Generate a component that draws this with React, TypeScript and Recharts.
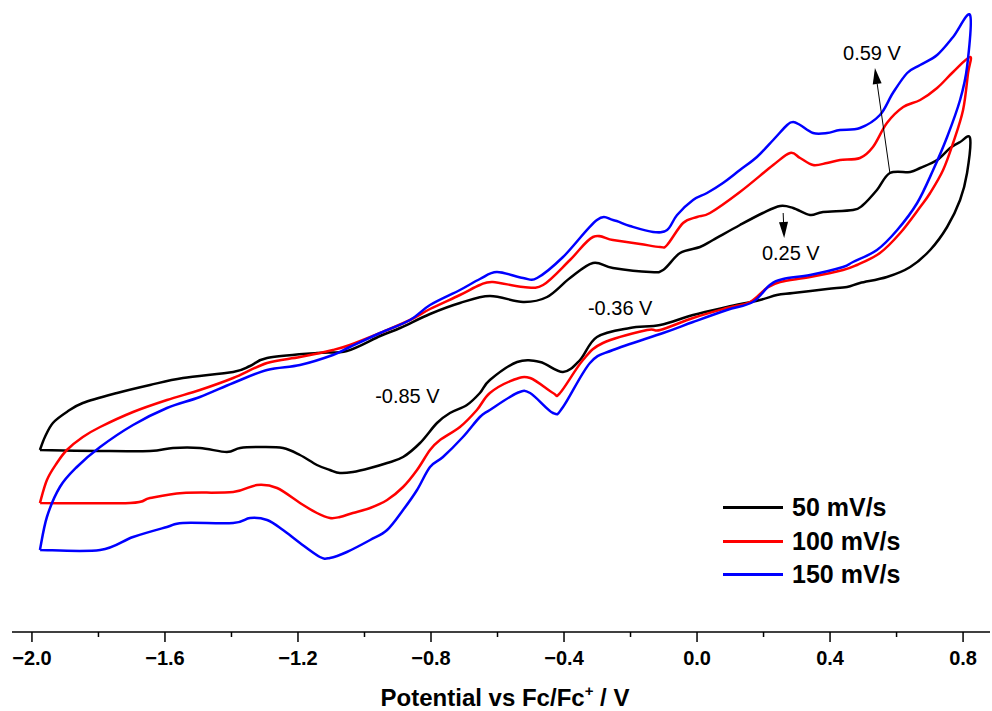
import { LineChart, Line, XAxis, YAxis, Legend, ReferenceLine, ReferenceDot, Label } from 'recharts'

const FONT = '"Liberation Sans", Arial, Helvetica, sans-serif'

// potential (V vs Fc/Fc+) and current (arb. units)
// anodic = left vertex -> right vertex, cathodic = back again
const anodic50 = [
  [-1.976, -3.0], [-1.961, -1.7], [-1.937, -0.3], [-1.895, 0.8], [-1.847, 1.7], [-1.744, 2.7], [-1.645, 3.5],
  [-1.546, 4.2], [-1.395, 4.8], [-1.344, 5.4], [-1.293, 6.2], [-1.143, 6.7], [-1.053, 6.9], [-0.953, 8.4],
  [-0.893, 9.2], [-0.803, 10.6], [-0.713, 11.7], [-0.623, 12.4], [-0.523, 11.8], [-0.451, 12.3], [-0.382, 14.2],
  [-0.313, 15.7], [-0.253, 15.2], [-0.141, 14.8], [-0.102, 15.0], [-0.051, 16.7], [0.009, 17.3], [0.048, 18.0],
  [0.129, 19.5], [0.198, 20.7], [0.25, 21.4], [0.289, 21.2], [0.34, 20.5], [0.379, 20.8], [0.469, 21.0],
  [0.499, 21.5], [0.541, 23.0], [0.58, 24.7], [0.641, 24.8], [0.671, 25.2], [0.722, 26.0], [0.761, 27.2],
  [0.791, 27.8], [0.821, 28.2],
]
const cathodic50 = [
  [0.812, 24.7], [0.791, 22.0], [0.752, 19.3], [0.701, 17.0], [0.641, 15.3], [0.571, 14.3], [0.49, 13.7],
  [0.451, 13.3], [0.391, 13.1], [0.289, 12.7], [0.24, 12.5], [0.189, 12.0], [0.09, 11.3], [-0.012, 10.5],
  [-0.111, 9.5], [-0.202, 9.2], [-0.301, 8.3], [-0.352, 6.0], [-0.403, 4.8], [-0.472, 5.8], [-0.541, 5.8],
  [-0.623, 4.0], [-0.653, 2.7], [-0.692, 1.5], [-0.743, 0.7], [-0.782, -0.3], [-0.833, -2.3], [-0.884, -3.7],
  [-0.932, -4.3], [-0.983, -4.8], [-1.035, -5.2], [-1.074, -5.3], [-1.104, -5.0], [-1.143, -4.5], [-1.194, -3.5],
  [-1.245, -2.8], [-1.314, -2.7], [-1.374, -2.8], [-1.414, -3.2], [-1.495, -2.8], [-1.576, -2.8], [-1.645, -3.1],
  [-1.795, -3.1], [-1.976, -3.0],
]

const anodic100 = [
  [-1.976, -8.3], [-1.955, -6.0], [-1.925, -4.3], [-1.895, -3.0], [-1.847, -1.7], [-1.795, -0.7], [-1.696, 0.8],
  [-1.594, 2.0], [-1.495, 3.0], [-1.395, 4.2], [-1.293, 5.7], [-1.194, 6.3], [-1.095, 7.0], [-1.044, 7.5],
  [-0.953, 8.7], [-0.863, 10.0], [-0.803, 11.1], [-0.713, 12.5], [-0.653, 13.5], [-0.614, 13.8], [-0.523, 13.3],
  [-0.463, 13.5], [-0.382, 16.0], [-0.313, 18.3], [-0.253, 18.0], [-0.171, 17.6], [-0.111, 17.3], [-0.09, 17.5],
  [-0.042, 19.7], [0.0, 20.3], [0.039, 20.7], [0.129, 22.8], [0.229, 25.5], [0.28, 26.7], [0.31, 26.2],
  [0.349, 25.5], [0.391, 25.7], [0.43, 26.0], [0.49, 26.2], [0.529, 27.3], [0.571, 29.7], [0.62, 31.3],
  [0.671, 32.0], [0.722, 33.2], [0.77, 34.8], [0.821, 36.3],
]
const cathodic100 = [
  [0.815, 34.7], [0.8, 31.0], [0.77, 27.7], [0.74, 25.0], [0.701, 22.7], [0.671, 21.3], [0.611, 18.7],
  [0.55, 16.7], [0.481, 15.5], [0.439, 15.0], [0.34, 14.3], [0.25, 13.8], [0.21, 13.2], [0.159, 11.8],
  [0.09, 11.2], [-0.012, 10.2], [-0.111, 9.0], [-0.15, 9.0], [-0.283, 7.7], [-0.343, 6.0], [-0.412, 2.7],
  [-0.433, 2.7], [-0.502, 4.2], [-0.553, 4.0], [-0.623, 2.7], [-0.662, 1.0], [-0.713, -0.7], [-0.773, -2.0],
  [-0.803, -3.0], [-0.842, -5.0], [-0.884, -6.7], [-0.932, -8.0], [-0.983, -8.8], [-1.035, -9.3], [-1.074, -9.7],
  [-1.104, -9.8], [-1.143, -9.3], [-1.194, -8.3], [-1.263, -6.8], [-1.323, -6.5], [-1.395, -7.2], [-1.546, -7.3],
  [-1.645, -7.8], [-1.705, -8.3], [-1.976, -8.3],
]

const anodic150 = [
  [-1.976, -13.0], [-1.955, -9.7], [-1.916, -6.7], [-1.865, -4.7], [-1.795, -2.7], [-1.696, -0.5], [-1.594, 1.2],
  [-1.495, 2.3], [-1.395, 3.7], [-1.293, 5.0], [-1.194, 5.5], [-1.095, 6.5], [-1.044, 7.3], [-0.953, 8.7],
  [-0.863, 10.0], [-0.803, 11.5], [-0.713, 13.0], [-0.653, 14.1], [-0.602, 14.8], [-0.523, 14.2], [-0.481, 14.2],
  [-0.403, 16.3], [-0.301, 20.0], [-0.253, 20.0], [-0.202, 19.4], [-0.132, 18.8], [-0.09, 19.0], [-0.06, 20.5],
  [-0.012, 22.0], [0.03, 22.7], [0.078, 23.7], [0.129, 25.0], [0.18, 26.3], [0.229, 28.0], [0.271, 29.5],
  [0.289, 29.8], [0.31, 29.5], [0.349, 28.7], [0.391, 28.7], [0.43, 29.0], [0.49, 29.2], [0.55, 30.5],
  [0.589, 32.7], [0.632, 34.7], [0.671, 35.5], [0.722, 36.5], [0.77, 38.3], [0.821, 40.5],
]
const cathodic150 = [
  [0.812, 35.3], [0.791, 32.0], [0.752, 28.3], [0.71, 25.0], [0.662, 21.7], [0.602, 19.0], [0.541, 17.0],
  [0.469, 15.8], [0.439, 15.3], [0.34, 14.5], [0.259, 14.1], [0.219, 13.5], [0.168, 11.8], [0.09, 11.0],
  [-0.012, 9.8], [-0.102, 8.7], [-0.253, 7.0], [-0.322, 5.7], [-0.403, 1.3], [-0.433, 0.7], [-0.502, 2.7],
  [-0.541, 2.7], [-0.623, 1.0], [-0.653, 0.3], [-0.704, -1.7], [-0.764, -3.7], [-0.803, -4.7], [-0.842, -7.0],
  [-0.884, -9.0], [-0.932, -11.0], [-0.983, -12.0], [-1.053, -13.2], [-1.104, -13.8], [-1.134, -13.7],
  [-1.194, -12.3], [-1.245, -11.0], [-1.293, -10.0], [-1.344, -9.8], [-1.395, -10.3], [-1.546, -10.3],
  [-1.594, -10.7], [-1.696, -11.7], [-1.795, -13.0], [-1.976, -13.0],
]

const majorTicks = [-2.0, -1.6, -1.2, -0.8, -0.4, 0.0, 0.4, 0.8]
const minorTicks = [-1.8, -1.4, -1.0, -0.6, -0.2, 0.2, 0.6]

const peakLabels = [
  { text: '0.59 V', e: 0.439, i: 36.0 },
  { text: '0.25 V', e: 0.195, i: 16.0 },
  { text: '-0.36 V', e: -0.328, i: 10.5 },
  { text: '-0.85 V', e: -0.968, i: 1.7 },
]
const peakArrows = [
  { from: [0.58, 24.7], to: [0.535, 35.2] },
  { from: [0.259, 20.7], to: [0.262, 18.2] },
]

const toPoints = (pts: number[][]) => pts.map(([e, i]) => ({ e, i }))

const series = [
  { name: '50 mV/s', color: '#000000', data: toPoints([...anodic50, ...cathodic50]) },
  { name: '100 mV/s', color: '#ff0000', data: toPoints([...anodic100, ...cathodic100]) },
  { name: '150 mV/s', color: '#0000ff', data: toPoints([...anodic150, ...cathodic150]) },
]

// catmull-rom style smoothing that follows point order (the loops go back on themselves in x)
const smoothLoop = (ctx: any) => {
  let pts: number[][] = []
  return {
    areaStart() {},
    areaEnd() {},
    lineStart() { pts = [] },
    point(x: number, y: number) { pts.push([+x, +y]) },
    lineEnd() {
      if (!pts.length) return
      ctx.moveTo(pts[0][0], pts[0][1])
      for (let k = 0; k < pts.length - 1; k++) {
        const p0 = pts[k - 1] || pts[k]
        const p1 = pts[k]
        const p2 = pts[k + 1]
        const p3 = pts[k + 2] || p2
        ctx.bezierCurveTo(
          p1[0] + (p2[0] - p0[0]) / 6, p1[1] + (p2[1] - p0[1]) / 6,
          p2[0] - (p3[0] - p1[0]) / 6, p2[1] - (p3[1] - p1[1]) / 6,
          p2[0], p2[1],
        )
      }
    },
  }
}

const fmt = (v: number) => (v < 0 ? '\u2212' + Math.abs(v).toFixed(1) : v.toFixed(1))

const AxisTick = ({ x, y, payload }: any) => {
  const major = majorTicks.some((m) => Math.abs(m - payload.value) < 1e-6)
  return (
    <g>
      <line x1={x} x2={x} y1={y} y2={y + (major ? 10 : 5)} stroke="#000" strokeWidth={1.5} />
      {major && (
        <text x={x} y={y + 33} textAnchor="middle" fontFamily={FONT} fontWeight={700} fontSize={20} fill="#000">
          {fmt(payload.value)}
        </text>
      )}
    </g>
  )
}

const AxisTitle = ({ viewBox }: any) => (
  <text
    x={viewBox.x + viewBox.width / 2 + 4} y={viewBox.y + 74} textAnchor="middle"
    fontFamily={FONT} fontWeight={700} fontSize={24} fill="#000"
  >
    Potential vs Fc/Fc
    <tspan fontSize={15} dy={-10}>+</tspan>
    <tspan dy={10}> / V</tspan>
  </text>
)

const LegendBox = () => (
  <div style={{ fontFamily: FONT }}>
    {series.map((s) => (
      <div key={s.name} style={{ display: 'flex', alignItems: 'center', height: 33.5 }}>
        <span style={{ display: 'inline-block', width: 60, height: 3, background: s.color, marginRight: 9 }} />
        <span style={{ fontSize: 25, fontWeight: 700, color: '#000', lineHeight: 1 }}>{s.name}</span>
      </div>
    ))}
  </div>
)

const Arrow = (p: any) => {
  const dx = p.x2 - p.x1
  const dy = p.y2 - p.y1
  const len = Math.hypot(dx, dy) || 1
  const ux = dx / len
  const uy = dy / len
  const hl = 16
  const hw = 4.5
  const bx = p.x2 - ux * hl
  const by = p.y2 - uy * hl
  return (
    <g>
      <line x1={p.x1} y1={p.y1} x2={bx} y2={by} stroke="#000" strokeWidth={1} />
      <polygon
        points={`${p.x2},${p.y2} ${bx - uy * hw},${by + ux * hw} ${bx + uy * hw},${by - ux * hw}`}
        fill="#000"
      />
    </g>
  )
}

export default function App() {
  return (
    <div style={{ position: 'absolute', left: 0, top: 0, background: '#fff' }}>
      <LineChart width={992} height={711} margin={{ top: 0, right: 2, left: 12, bottom: 0 }}>
        <XAxis
          type="number" dataKey="e" domain={[-2.06, 0.881]} allowDataOverflow
          ticks={[...majorTicks, ...minorTicks].sort((a, b) => a - b)} interval={0}
          tickSize={0} tickMargin={0} tickLine={false} tick={AxisTick}
          axisLine={{ stroke: '#000', strokeWidth: 1.5 }} height={79}
        >
          <Label content={AxisTitle} />
        </XAxis>
        <YAxis type="number" dataKey="i" domain={[-21.2, 42]} allowDataOverflow hide />
        {series.map((s) => (
          <Line
            key={s.name} data={s.data} dataKey="i" name={s.name} type={smoothLoop as any}
            stroke={s.color} strokeWidth={2.5} strokeLinejoin="round" dot={false} activeDot={false}
            isAnimationActive={false}
          />
        ))}
        {peakArrows.map((a, k) => (
          <ReferenceLine
            key={k} ifOverflow="visible" shape={Arrow}
            segment={[{ x: a.from[0], y: a.from[1] }, { x: a.to[0], y: a.to[1] }]}
          />
        ))}
        {peakLabels.map((l) => (
          <ReferenceDot
            key={l.text} x={l.e} y={l.i} ifOverflow="visible"
            shape={(p: any) => (
              <text x={p.cx} y={p.cy} fontFamily={FONT} fontSize={20} fill="#000">{l.text}</text>
            )}
          />
        ))}
        <Legend
          content={LegendBox} layout="horizontal" verticalAlign="middle"
          wrapperStyle={{ left: 723, top: 491, width: 'auto' }}
        />
      </LineChart>
    </div>
  )
}
